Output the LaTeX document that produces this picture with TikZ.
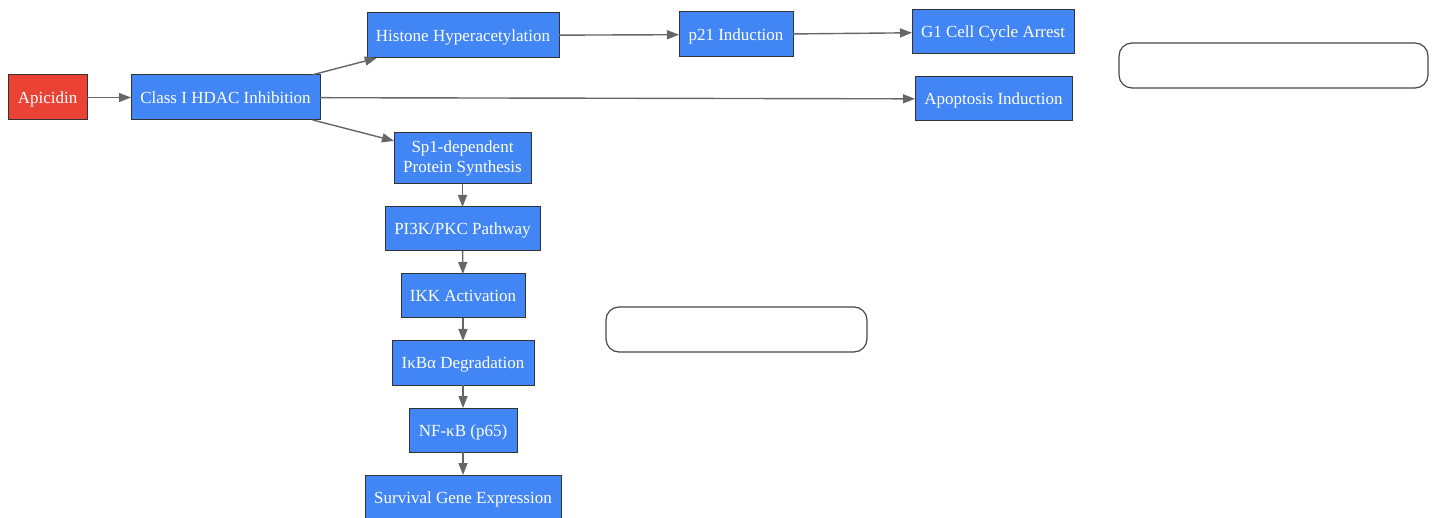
\documentclass[tikz,border=0pt]{standalone}
\usepackage{fontspec}
\setmainfont{Liberation Serif}
\usetikzlibrary{arrows.meta}
\definecolor{boxblue}{HTML}{4285F4}
\definecolor{boxred}{HTML}{EA4335}
\definecolor{edgegray}{HTML}{666666}
\definecolor{bordergray}{HTML}{333333}
\tikzset{
  procbox/.style={draw=bordergray, line width=1pt, fill=boxblue, text=white,
    font=\fontsize{17}{20}\selectfont, align=center, inner sep=0pt, outer sep=0pt},
  onebox/.style={procbox, text height=16pt, text depth=4pt},
  startbox/.style={onebox, fill=boxred},
  emptybox/.style={draw=bordergray!90, line width=1.2pt, fill=white, rounded corners=13pt, inner sep=0pt, outer sep=0pt},
  flow/.style={draw=edgegray, line width=1.4pt, -{Triangle[length=12pt,width=9pt]}}
}
\begin{document}
\begin{tikzpicture}[x=1pt,y=-1pt]
\useasboundingbox (0,0) rectangle (1437,518);
\node[startbox, minimum width=79, minimum height=45] (api) at (47.5,97.5) {Apicidin};
\node[onebox, minimum width=189, minimum height=45] (hdac) at (225.5,97.5) {Class I HDAC Inhibition};
\node[onebox, minimum width=192, minimum height=45] (hist) at (463,35.5) {Histone Hyperacetylation};
\node[onebox, minimum width=114, minimum height=45] (p21) at (736,34.5) {p21 Induction};
\node[onebox, minimum width=162, minimum height=44] (g1) at (993,32) {G1 Cell Cycle Arrest};
\node[onebox, minimum width=157, minimum height=44] (apo) at (993.5,99) {Apoptosis Induction};
\node[procbox, minimum width=137, minimum height=51] (sp1) at (462.5,158.5) {Sp1-dependent\\Protein Synthesis};
\node[onebox, minimum width=155, minimum height=44] (pi3k) at (462.5,229) {PI3K/PKC Pathway};
\node[onebox, minimum width=124, minimum height=44] (ikk) at (463,296) {IKK Activation};
\node[onebox, minimum width=142, minimum height=44] (ikb) at (463,363) {IκBα Degradation};
\node[onebox, minimum width=108, minimum height=44] (nfkb) at (463,430) {NF-κB (p65)};
\node[onebox, minimum width=196, minimum height=45] (surv) at (463,497.5) {Survival Gene Expression};
\node[emptybox, minimum width=309, minimum height=45] (e1) at (1273.5,65.5) {};
\node[emptybox, minimum width=261, minimum height=45] (e2) at (736.5,329.5) {};
\draw[flow] (api) -- (hdac);
\draw[flow] (hdac) -- (hist);
\draw[flow] (hdac) -- (sp1);
\draw[flow] (hdac) -- (apo);
\draw[flow] (hist) -- (p21);
\draw[flow] (p21) -- (g1);
\draw[flow] (sp1) -- (pi3k);
\draw[flow] (pi3k) -- (ikk);
\draw[flow] (ikk) -- (ikb);
\draw[flow] (ikb) -- (nfkb);
\draw[flow] (nfkb) -- (surv);
\end{tikzpicture}
\end{document}
